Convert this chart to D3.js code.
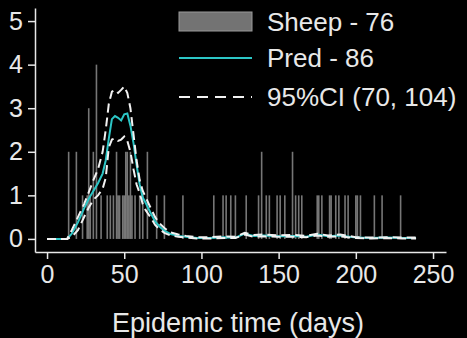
<!DOCTYPE html>
<html>
<head>
<meta charset="utf-8">
<script src="https://cdn.jsdelivr.net/npm/d3@7"></script>
<style>
  html, body { margin: 0; padding: 0; background: #000; }
  svg { display: block; font-family: "Liberation Sans", Arial, sans-serif; }
</style>
</head>
<body>
<svg id="chart" width="467" height="338"></svg>
<script>
// observed sheep cases per day
const caseDays = [14, 19, 23, 26, 27, 28, 30, 32, 35, 39, 41, 43, 45, 46, 47, 49, 50, 51, 52, 53, 54, 55, 57, 60, 62, 65,
    71, 76, 88, 108, 114, 116, 119, 122, 129, 137, 139, 142, 144, 149, 151, 154, 159, 161, 163, 165,
    175, 176, 178, 183, 184, 187, 189, 193, 195, 200, 201, 203, 212, 217, 229];
const caseCounts = [2, 2, 1, 1, 3, 1, 2, 4, 1, 1, 1, 1, 2, 1, 1, 1, 1, 2, 2, 1, 2, 1, 1, 1, 1, 2,
    1, 1, 1, 1, 1, 1, 1, 1, 1, 1, 2, 1, 1, 1, 1, 1, 2, 1, 1, 1,
    1, 1, 1, 1, 1, 1, 1, 1, 1, 1, 1, 1, 1, 1, 1];

// model prediction and 95% interval
const predDays = [0, 13, 16, 20, 24, 27, 30, 33, 36, 38, 40, 42, 44, 46, 48, 50, 52, 54, 56, 58, 60, 62, 64, 67, 70, 73, 76, 80,
    85, 90, 97, 105, 115, 122, 128, 134, 140, 150, 160, 168, 175, 182, 190, 200, 210, 220, 230, 239];
const predMean = [0, 0, 0.12, 0.38, 0.7, 0.92, 1.1, 1.28, 1.5, 1.8, 2.3, 2.75, 2.82, 2.78, 2.72, 2.86, 2.88, 2.6, 2.2, 1.7, 1.25, 0.95, 0.82, 0.6, 0.4, 0.28, 0.19, 0.11,
    0.07, 0.05, 0.02, 0.02, 0.04, 0.03, 0.12, 0.07, 0.08, 0.06, 0.07, 0.05, 0.1, 0.06, 0.08, 0.03, 0.02, 0.03, 0.02, 0.02];
const ciHigh = [0, 0, 0.2, 0.5, 0.8, 1.07, 1.35, 1.6, 2.0, 2.5, 3.1, 3.38, 3.42, 3.35, 3.42, 3.5, 3.35, 3.0, 2.4, 1.8, 1.35, 1.1, 0.95, 0.72, 0.5, 0.35, 0.25, 0.15,
    0.1, 0.07, 0.04, 0.04, 0.06, 0.05, 0.14, 0.09, 0.1, 0.08, 0.09, 0.07, 0.12, 0.08, 0.1, 0.04, 0.03, 0.04, 0.03, 0.03];
const ciLow = [0, 0, 0.05, 0.2, 0.5, 0.72, 0.9, 1.0, 1.15, 1.4, 2.1, 2.28, 2.31, 2.25, 2.28, 2.35, 2.25, 2.0, 1.6, 1.25, 1.05, 0.8, 0.65, 0.5, 0.32, 0.22, 0.14, 0.08,
    0.05, 0.03, 0.01, 0.01, 0.02, 0.02, 0.1, 0.05, 0.06, 0.05, 0.05, 0.04, 0.08, 0.05, 0.06, 0.02, 0.01, 0.02, 0.01, 0.01];

const xTicks = [0, 50, 100, 150, 200, 250];
const yTicks = [0, 1, 2, 3, 4, 5];
const legendLabels = ["Sheep - 76", "Pred - 86", "95%CI (70, 104)"];

const svg = d3.select("#chart");
const fg = "#e8e8e8";
const cyan = "#2cc6c6";

const x = d3.scaleLinear().domain([-7.8, 258.4]).range([35, 446]);
const y = d3.scaleLinear().domain([-0.3, 5.3]).range([252, 8]);

const cases = caseDays.map((d, i) => ({ day: d, n: caseCounts[i] }));
const pred = predDays.map((d, i) => ({ day: d, m: predMean[i], lo: ciLow[i], hi: ciHigh[i] }));

// bars
svg.append("g").selectAll("rect")
    .data(cases)
    .join("rect")
    .attr("x", d => x(d.day) - 0.8)
    .attr("width", 1.6)
    .attr("y", d => y(d.n))
    .attr("height", d => y(0) - y(d.n))
    .attr("fill", "#c4c4c4")
    .attr("opacity", 0.6);

const lineOf = key => d3.line().x(d => x(d.day)).y(d => y(d[key]));

svg.append("path")
    .datum(pred)
    .attr("fill", "none")
    .attr("stroke", cyan)
    .attr("stroke-width", 2)
    .attr("d", lineOf("m"));

["lo", "hi"].forEach(k => {
    svg.append("path")
        .datum(pred)
        .attr("fill", "none")
        .attr("stroke", "#f2f2f2")
        .attr("stroke-width", 2)
        .attr("stroke-dasharray", "9,5")
        .attr("d", lineOf(k));
});

// axes
const xAxis = svg.append("g")
    .attr("transform", `translate(0,252)`)
    .call(d3.axisBottom(x).tickValues(xTicks).tickSize(7).tickSizeOuter(0).tickPadding(6));
const yAxis = svg.append("g")
    .attr("transform", `translate(35,0)`)
    .call(d3.axisLeft(y).tickValues(yTicks).tickFormat(d3.format("d")).tickSize(7).tickSizeOuter(0).tickPadding(5));

[xAxis, yAxis].forEach(a => {
    a.selectAll("path, line").attr("stroke", fg).attr("stroke-width", 1.5);
    a.selectAll("text").attr("fill", fg).attr("font-size", 25).attr("font-family", "Liberation Sans, Arial, sans-serif");
});

svg.append("text")
    .attr("x", 238)
    .attr("y", 332)
    .attr("text-anchor", "middle")
    .attr("fill", fg)
    .attr("font-size", 27)
    .text("Epidemic time (days)");

// legend
const lg = svg.append("g");
lg.append("rect")
    .attr("x", 179).attr("y", 12).attr("width", 73).attr("height", 19)
    .attr("fill", "#737373").attr("stroke", "#9a9a9a").attr("stroke-width", 1);
lg.append("line")
    .attr("x1", 179).attr("x2", 252).attr("y1", 58).attr("y2", 58)
    .attr("stroke", cyan).attr("stroke-width", 2);
lg.append("line")
    .attr("x1", 179).attr("x2", 252).attr("y1", 97).attr("y2", 97)
    .attr("stroke", "#f2f2f2").attr("stroke-width", 2).attr("stroke-dasharray", "11,7");
lg.selectAll("text.lab")
    .data(legendLabels)
    .join("text")
    .attr("class", "lab")
    .attr("x", 267)
    .attr("y", (d, i) => [22, 58, 97][i])
    .attr("dy", "0.35em")
    .attr("fill", fg)
    .attr("font-size", 26)
    .text(d => d);
</script>
</body>
</html>
